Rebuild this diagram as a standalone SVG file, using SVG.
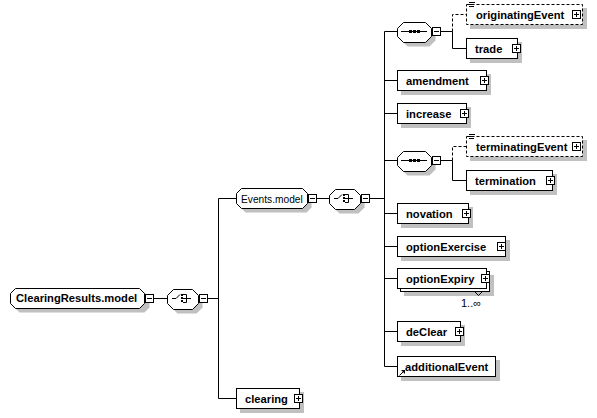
<svg xmlns="http://www.w3.org/2000/svg" xmlns:xlink="http://www.w3.org/1999/xlink" width="597" height="418" viewBox="0 0 597 418">
<style>
.ln{stroke:#000;stroke-width:1;fill:none}
.dl{stroke:#000;stroke-width:1;fill:none;stroke-dasharray:3,2}
.box{fill:#fff;stroke:#000;stroke-width:1}
.dbox{fill:#fff;stroke:#000;stroke-width:1;stroke-dasharray:3,2}
.sh{fill:#c0c0c0;stroke:none}
.t{font-family:"Liberation Sans",Arial,sans-serif;font-size:11.2px;font-weight:bold;fill:#000}
.tn{font-weight:normal;font-size:10.2px}
.pm{fill:#fff;stroke:#000;stroke-width:1}
</style>
<defs>
<g id="mn"><rect class="pm" x="0.5" y="0.5" width="8" height="8"/><path class="ln" d="M2 4.5H7"/></g>
<g id="pl"><rect class="pm" x="0.5" y="0.5" width="8" height="8"/><path class="ln" d="M2 4.5H7M4.5 2V7"/></g>
<g id="seqicon"><path class="ln" d="M4 0.5H30"/><rect x="12" y="-1" width="3" height="3"/><rect x="16" y="-1" width="3" height="3"/><rect x="20" y="-1" width="3" height="3"/></g>
<g id="choiceicon"><path class="ln" d="M4 0.5H8L12 -3.5M15 -3.5H18.5V4.5H15M15 0.5H23"/><rect x="13" y="-4" width="2" height="2"/><rect x="13" y="-1" width="2" height="2"/><rect x="13" y="2" width="2" height="2"/></g>
<g id="attr"><path class="ln" d="M0 0.5H6M0 2.5H5M0 4.5H5"/></g>
</defs>

<g id="connectors">
<path class="ln" d="M153 298.5H167M207 298.5H218.5M218.5 198.5V398.5M218.5 198.5H236M218.5 398.5H236"/>
<path class="ln" d="M316 198.5H329M370 198.5H384.5M384.5 31.5V366.5"/>
<path class="ln" d="M384.5 31.5H397M384.5 80.5H397M384.5 113.5H397M384.5 160.5H397M384.5 213.5H397M384.5 246.5H397M384.5 278.5H397M384.5 331.5H397M384.5 366.5H397"/>
<path class="ln" d="M440 31.5H452.5V48.5H466"/>
<path class="dl" d="M452.5 31.5V14.5H466"/>
<path class="ln" d="M440 160.5H452.5V180.5H466"/>
<path class="dl" d="M452.5 160.5V146.5H466"/>
</g>

<g id="ClearingResults.model">
<path class="sh" d="M19.5 292.5H144.5L149.5 297.5V307.5L144.5 312.5H19.5L14.5 307.5V297.5Z"/>
<path class="box" d="M15.5 288.5H139.5L144.5 293.5V303.5L139.5 308.5H15.5L10.5 303.5V293.5Z"/>
<text class="t" x="16" y="302">ClearingResults.model</text>
<use xlink:href="#mn" x="145" y="294"/>
</g>

<g id="choice1">
<path class="sh" d="M177.5 293.5H196.5L202.5 299.5V307.5L196.5 313.5H177.5L171.5 307.5V299.5Z"/>
<path class="box" d="M173.5 289.5H192.5L198.5 295.5V303.5L192.5 309.5H173.5L167.5 303.5V295.5Z"/>
<use xlink:href="#choiceicon" x="168" y="298"/>
<use xlink:href="#mn" x="199" y="294"/>
</g>

<g id="Events.model">
<path class="sh" d="M245.5 192.5H306.5L311.5 197.5V207.5L306.5 212.5H245.5L240.5 207.5V197.5Z"/>
<path class="box" d="M241.5 188.5H302.5L307.5 193.5V203.5L302.5 208.5H241.5L236.5 203.5V193.5Z"/>
<text class="t tn" x="241" y="202.5">Events.model</text>
<use xlink:href="#mn" x="308" y="194"/>
</g>

<g id="choice2">
<path class="sh" d="M339.5 193.5H358.5L364.5 199.5V207.5L358.5 213.5H339.5L333.5 207.5V199.5Z"/>
<path class="box" d="M335.5 189.5H354.5L360.5 195.5V203.5L354.5 209.5H335.5L329.5 203.5V195.5Z"/>
<use xlink:href="#choiceicon" x="330" y="198"/>
<use xlink:href="#mn" x="361" y="194"/>
</g>

<g id="sequence1">
<path class="sh" d="M407.5 26.5H429.5L435.5 32.5V40.5L429.5 46.5H407.5L401.5 40.5V32.5Z"/>
<path class="box" d="M403.5 22.5H425.5L431.5 28.5V36.5L425.5 42.5H403.5L397.5 36.5V28.5Z"/>
<use xlink:href="#seqicon" x="397" y="31"/>
<use xlink:href="#mn" x="432" y="27"/>
</g>

<g id="originatingEvent">
<rect class="sh" x="470" y="8" width="117" height="21"/>
<rect class="dbox" x="466.5" y="4.5" width="116" height="20"/>
<use xlink:href="#attr" x="469" y="2"/>
<text class="t" x="476" y="19">originatingEvent</text>
<use xlink:href="#pl" x="572" y="10"/>
</g>

<g id="trade">
<rect class="sh" x="470" y="42" width="52" height="21"/>
<rect class="box" x="466.5" y="38.5" width="51" height="20"/>
<text class="t" x="475" y="52.5">trade</text>
<use xlink:href="#pl" x="512" y="44"/>
</g>

<g id="amendment">
<rect class="sh" x="401" y="74" width="90" height="21"/>
<rect class="box" x="397.5" y="70.5" width="89" height="20"/>
<text class="t" x="406" y="84.5">amendment</text>
<use xlink:href="#pl" x="480" y="76"/>
</g>

<g id="increase">
<rect class="sh" x="401" y="107" width="70" height="21"/>
<rect class="box" x="397.5" y="103.5" width="69" height="20"/>
<text class="t" x="406" y="117.5">increase</text>
<use xlink:href="#pl" x="460" y="109"/>
</g>

<g id="sequence2">
<path class="sh" d="M407.5 155.5H429.5L435.5 161.5V169.5L429.5 175.5H407.5L401.5 169.5V161.5Z"/>
<path class="box" d="M403.5 151.5H425.5L431.5 157.5V165.5L425.5 171.5H403.5L397.5 165.5V157.5Z"/>
<use xlink:href="#seqicon" x="397" y="160"/>
<use xlink:href="#mn" x="432" y="156"/>
</g>

<g id="terminatingEvent">
<rect class="sh" x="470" y="140" width="117" height="21"/>
<rect class="dbox" x="466.5" y="136.5" width="116" height="20"/>
<use xlink:href="#attr" x="469" y="134"/>
<text class="t" x="476" y="151">terminatingEvent</text>
<use xlink:href="#pl" x="572" y="142"/>
</g>

<g id="termination">
<rect class="sh" x="470" y="174" width="87" height="21"/>
<rect class="box" x="466.5" y="170.5" width="86" height="20"/>
<text class="t" x="475" y="184.5">termination</text>
<use xlink:href="#pl" x="546" y="176"/>
</g>

<g id="novation">
<rect class="sh" x="401" y="207" width="72" height="21"/>
<rect class="box" x="397.5" y="203.5" width="71" height="20"/>
<text class="t" x="406" y="217.5">novation</text>
<use xlink:href="#pl" x="462" y="209"/>
</g>

<g id="optionExercise">
<rect class="sh" x="401" y="240" width="109" height="21"/>
<rect class="box" x="397.5" y="236.5" width="108" height="20"/>
<text class="t" x="406" y="250.5">optionExercise</text>
<use xlink:href="#pl" x="497" y="242"/>
</g>

<g id="optionExpiry">
<rect class="sh" x="404" y="275" width="90" height="21"/>
<rect class="box" x="400.5" y="271.5" width="89" height="20"/>
<rect class="box" x="397.5" y="268.5" width="89" height="20"/>
<text class="t" x="406" y="282.5">optionExpiry</text>
<use xlink:href="#pl" x="481" y="274"/>
<path class="ln" d="M474.5 291.5L478.5 295.5L482.5 291.5"/>
<text class="t tn" x="461" y="307" style="font-size:11px">1..∞</text>
</g>

<g id="deClear">
<rect class="sh" x="401" y="325" width="64" height="21"/>
<rect class="box" x="397.5" y="321.5" width="63" height="20"/>
<text class="t" x="406" y="335.5">deClear</text>
<use xlink:href="#pl" x="455" y="327"/>
</g>

<g id="additionalEvent">
<rect class="sh" x="401" y="360" width="99" height="21"/>
<rect class="box" x="397.5" y="356.5" width="98" height="20"/>
<text class="t" x="405" y="370.5">additionalEvent</text>
<path class="ln" d="M399.5 375.5L403 372"/>
<path d="M401 370H405V374Z" fill="#000"/>
</g>

<g id="clearing">
<rect class="sh" x="240" y="392" width="64" height="21"/>
<rect class="box" x="236.5" y="388.5" width="63" height="20"/>
<text class="t" x="245" y="402.5">clearing</text>
<use xlink:href="#pl" x="294" y="394"/>
</g>
</svg>
